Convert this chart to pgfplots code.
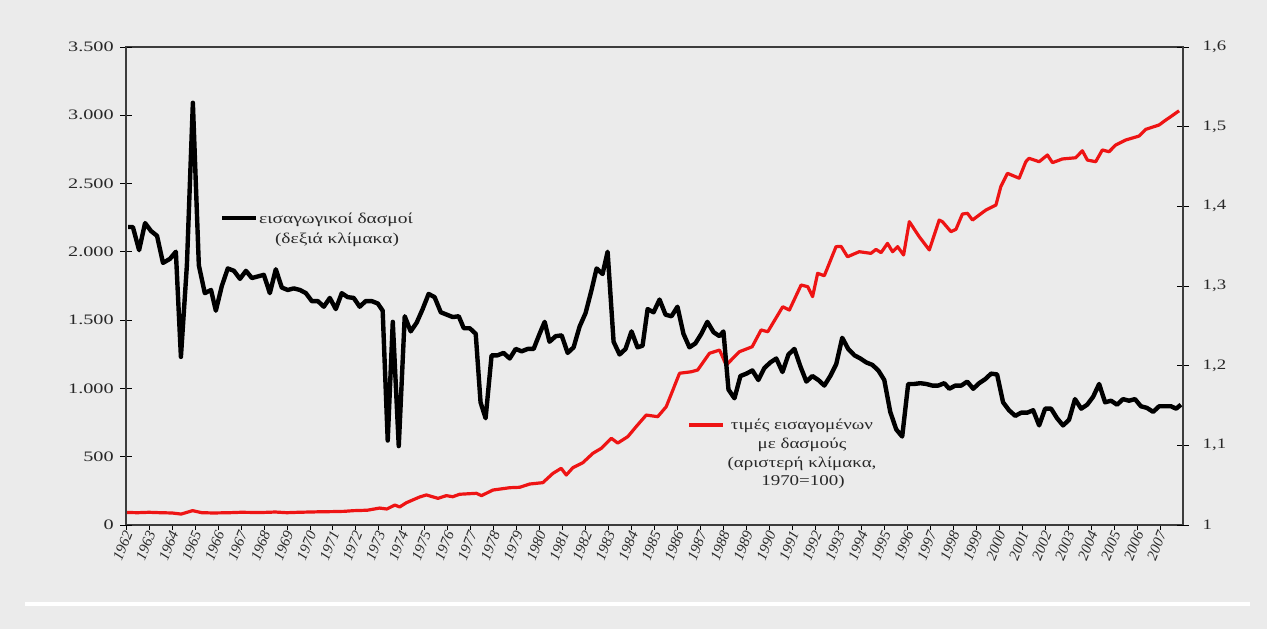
\documentclass[border=0pt]{standalone}
\usepackage{pgfplots}
\pgfplotsset{compat=1.18}
\usepackage{pgfplotstable}
\usepackage{fontspec}
\setmainfont{Liberation Serif}
\definecolor{bg}{RGB}{235,235,235}
\definecolor{redline}{RGB}{238,20,20}
\definecolor{axgray}{RGB}{60,60,60}
\definecolor{txt}{RGB}{40,40,40}

% import prices with tariffs (left scale, 1970=100)
\pgfplotstableread{
t v
1962.00 92
1962.50 90
1963.00 93
1963.50 90
1964.00 88
1964.40 80
1964.90 105
1965.30 90
1965.80 88
1966.50 90
1967.00 93
1967.50 92
1968.00 92
1968.50 95
1969.00 90
1969.50 93
1970.00 95
1970.50 97
1971.00 98
1971.50 100
1971.90 105
1972.50 108
1973.04 124
1973.35 117
1973.70 146
1973.91 132
1974.20 163
1974.78 205
1975.07 220
1975.58 195
1975.94 215
1976.22 207
1976.52 225
1977.25 232
1977.47 215
1977.97 256
1978.70 273
1979.13 276
1979.57 300
1980.14 310
1980.58 378
1980.94 415
1981.16 366
1981.45 420
1981.88 456
1982.32 525
1982.68 561
1983.12 635
1983.40 600
1983.84 647
1984.20 720
1984.64 805
1985.14 793
1985.51 866
1986.09 1111
1986.60 1122
1986.88 1135
1987.39 1257
1987.83 1281
1988.12 1171
1988.70 1269
1989.25 1305
1989.64 1428
1989.93 1415
1990.58 1598
1990.87 1574
1991.38 1757
1991.67 1745
1991.88 1672
1992.10 1843
1992.39 1825
1992.90 2038
1993.12 2040
1993.40 1964
1993.91 2001
1994.42 1989
1994.64 2018
1994.86 1994
1995.14 2062
1995.36 2001
1995.58 2038
1995.84 1977
1996.09 2221
1996.52 2111
1996.96 2014
1997.39 2233
1997.53 2221
1997.90 2148
1998.12 2165
1998.40 2277
1998.62 2282
1998.84 2233
1999.42 2306
1999.86 2343
2000.07 2477
2000.36 2575
2000.87 2539
2001.16 2660
2001.30 2685
2001.74 2660
2002.10 2709
2002.32 2653
2002.75 2680
2003.33 2689
2003.62 2740
2003.84 2672
2004.20 2660
2004.49 2746
2004.78 2733
2005.07 2782
2005.51 2819
2006.09 2848
2006.38 2897
2006.96 2929
2007.25 2965
2007.46 2989
2007.83 3033
}\prices

% import tariffs (right scale)
\pgfplotstableread{
t v
1962.09 1.374
1962.30 1.374
1962.57 1.345
1962.83 1.379
1963.09 1.369
1963.35 1.363
1963.61 1.329
1963.91 1.334
1964.17 1.343
1964.39 1.211
1964.65 1.326
1964.91 1.530
1965.17 1.326
1965.43 1.291
1965.70 1.295
1965.91 1.269
1966.17 1.300
1966.43 1.322
1966.70 1.319
1966.96 1.309
1967.22 1.319
1967.48 1.310
1967.74 1.312
1968.00 1.314
1968.26 1.291
1968.52 1.321
1968.78 1.298
1969.04 1.295
1969.30 1.297
1969.57 1.295
1969.83 1.291
1970.09 1.281
1970.35 1.281
1970.61 1.274
1970.87 1.285
1971.13 1.271
1971.39 1.291
1971.65 1.286
1971.91 1.285
1972.17 1.274
1972.43 1.281
1972.70 1.281
1972.96 1.278
1973.17 1.269
1973.39 1.106
1973.61 1.255
1973.87 1.099
1974.13 1.262
1974.39 1.243
1974.65 1.254
1974.91 1.271
1975.17 1.290
1975.43 1.286
1975.70 1.267
1975.96 1.264
1976.22 1.261
1976.48 1.262
1976.70 1.247
1976.96 1.247
1977.22 1.240
1977.43 1.154
1977.65 1.134
1977.91 1.213
1978.17 1.213
1978.43 1.216
1978.70 1.209
1978.96 1.221
1979.22 1.218
1979.48 1.221
1979.74 1.221
1980.00 1.240
1980.22 1.255
1980.43 1.230
1980.70 1.237
1980.96 1.238
1981.22 1.216
1981.48 1.223
1981.74 1.249
1982.00 1.266
1982.26 1.295
1982.48 1.322
1982.74 1.315
1982.96 1.343
1983.22 1.230
1983.48 1.214
1983.74 1.221
1984.00 1.243
1984.26 1.223
1984.48 1.225
1984.70 1.271
1984.96 1.267
1985.22 1.283
1985.48 1.264
1985.74 1.262
1986.00 1.274
1986.26 1.240
1986.52 1.223
1986.78 1.228
1987.04 1.240
1987.30 1.255
1987.57 1.242
1987.83 1.237
1988.00 1.243
1988.22 1.170
1988.48 1.159
1988.74 1.187
1989.00 1.190
1989.26 1.194
1989.52 1.182
1989.78 1.197
1990.04 1.204
1990.30 1.209
1990.57 1.192
1990.83 1.214
1991.09 1.221
1991.35 1.199
1991.61 1.180
1991.87 1.187
1992.13 1.182
1992.39 1.175
1992.65 1.187
1992.91 1.202
1993.17 1.235
1993.43 1.221
1993.70 1.213
1993.96 1.209
1994.22 1.204
1994.48 1.201
1994.74 1.194
1995.00 1.182
1995.26 1.142
1995.52 1.120
1995.78 1.111
1996.04 1.177
1996.30 1.177
1996.57 1.178
1996.83 1.177
1997.09 1.175
1997.35 1.175
1997.61 1.178
1997.83 1.171
1998.09 1.175
1998.35 1.175
1998.61 1.180
1998.87 1.171
1999.13 1.178
1999.39 1.183
1999.65 1.190
1999.91 1.189
2000.17 1.154
2000.43 1.144
2000.70 1.137
2000.96 1.141
2001.22 1.141
2001.48 1.144
2001.74 1.125
2002.00 1.146
2002.26 1.146
2002.52 1.134
2002.78 1.125
2003.04 1.132
2003.30 1.158
2003.57 1.146
2003.83 1.151
2004.09 1.161
2004.35 1.177
2004.61 1.154
2004.87 1.156
2005.13 1.151
2005.39 1.158
2005.65 1.156
2005.91 1.158
2006.17 1.149
2006.43 1.147
2006.70 1.142
2006.96 1.149
2007.22 1.149
2007.48 1.149
2007.70 1.146
2007.91 1.151
}\tariffs

\begin{document}
\begin{tikzpicture}[x=1bp,y=1bp]
\fill[bg] (-126,-104) rectangle (1141,525);
\fill[white] (-101,-81) rectangle (1124,-77);

% axis A: frame, x ticks, red series
\begin{axis}[
  at={(0,0)}, anchor=south west, scale only axis,
  width=1057bp, height=478bp,
  xmin=1962, xmax=2008, ymin=0, ymax=3500,
  axis line style={axgray, line width=1.1bp},
  ytick=\empty,
  xtick={1962,...,2007}, minor x tick num=3,
  xtick pos=bottom,
  tick align=outside,
  major tick length=5bp, minor tick length=5bp,
  tick style={black, line width=0.6bp},
  /pgf/number format/assume math mode=true,
  xticklabel style={/pgf/number format/1000 sep={}, font=\fontsize{15}{15}\selectfont\itshape,
     rotate=68, anchor=east, text=txt, inner sep=1bp, yshift=-3bp},
]
\addplot[redline, line width=3.2bp, line join=round] table[x=t,y=v] {\prices};
\end{axis}

% axis B: left y scale
\begin{axis}[
  at={(0,0)}, anchor=south west, scale only axis,
  width=1057bp, height=478bp,
  xmin=1962, xmax=2008, ymin=0, ymax=3500,
  axis y line*=left, axis x line=none,
  axis line style={axgray, line width=1.1bp},
  ytick={0,500,...,3500},
  tick align=center, major tick length=12bp,
  tick style={black, line width=0.8bp},
  /pgf/number format/assume math mode=true,
  yticklabel style={/pgf/number format/1000 sep={.}, font=\fontsize{14.5}{14.5}\selectfont, text=txt, xscale=1.4, xshift=-1bp},
]
\end{axis}

% axis C: right y scale, black series
\begin{axis}[
  at={(0,0)}, anchor=south west, scale only axis,
  width=1057bp, height=478bp,
  xmin=1962, xmax=2008, ymin=1, ymax=1.6,
  axis y line*=right, axis x line=none,
  axis line style={axgray, line width=1.1bp},
  ytick={1,1.1,...,1.6},
  tick align=center, major tick length=12bp,
  tick style={black, line width=0.8bp},
  /pgf/number format/assume math mode=true,
  yticklabel style={/pgf/number format/.cd, use comma, fixed, precision=1, /tikz/.cd, font=\fontsize{14.5}{14.5}\selectfont, text=txt, xscale=1.3, anchor=west, xshift=7bp},
]
\addplot[black, line width=4.4bp, line join=round] table[x=t,y=v] {\tariffs};
\end{axis}

% annotations (series labels)
\draw[black, line width=4.5bp] (96,307) -- (130,307);
\node[txt, font=\fontsize{15}{15}\selectfont, xscale=1.3] at (210,305) {εισαγωγικοί δασμοί};
\node[txt, font=\fontsize{15}{15}\selectfont, xscale=1.3] at (211,285) {(δεξιά κλίμακα)};

\draw[redline, line width=3.5bp] (563,100) -- (597,100);
\node[txt, font=\fontsize{15}{15}\selectfont, xscale=1.27] at (676,99) {τιμές εισαγομένων};
\node[txt, font=\fontsize{15}{15}\selectfont, xscale=1.27] at (676,80) {με δασμούς};
\node[txt, font=\fontsize{15}{15}\selectfont, xscale=1.27] at (676,61) {(αριστερή κλίμακα,};
\node[txt, font=\fontsize{15}{15}\selectfont, xscale=1.27] at (677,43) {1970=100)};
\end{tikzpicture}
\end{document}
